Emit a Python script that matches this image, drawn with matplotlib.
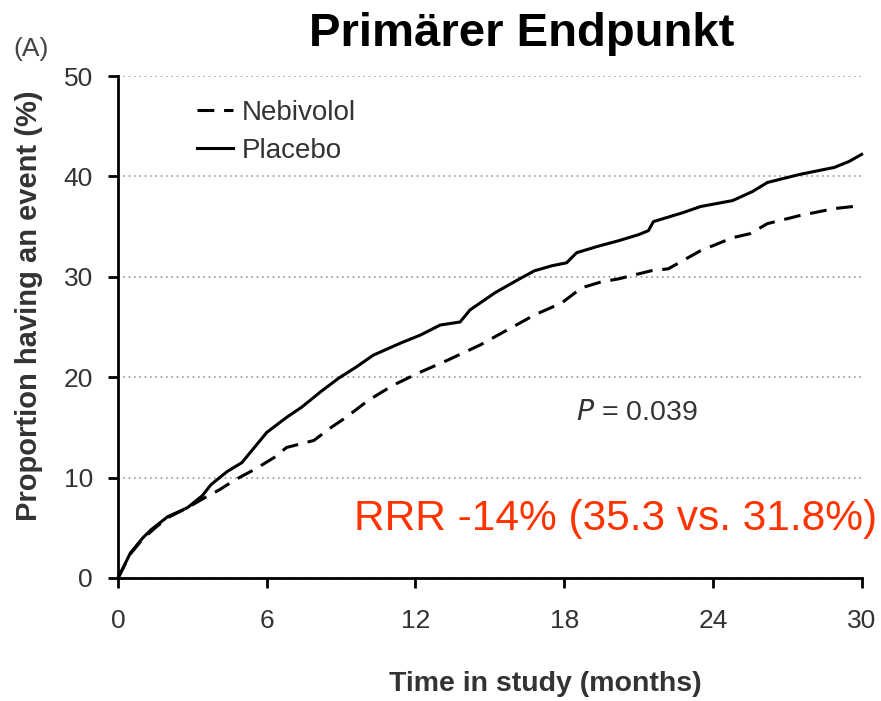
import matplotlib
matplotlib.use("Agg")
import matplotlib.pyplot as plt

# ========================
# DATA
# ========================
placebo_months = [0, 0.5, 1.0, 1.33, 2.0, 2.8, 3.4, 3.75, 4.4, 5.0, 6.0, 6.8, 7.4, 8.2,
                  8.9, 9.6, 10.3, 11.4, 12.2, 13.0, 13.8, 14.2, 15.2, 16.2, 16.8, 17.5,
                  18.1, 18.5, 19.3, 20.2, 21.0, 21.4, 21.6, 22.8, 23.5, 24.8, 25.6, 26.2,
                  27.5, 28.9, 29.5, 30.0]
placebo_pct = [0, 2.5, 4.0, 4.8, 6.1, 7.0, 8.2, 9.3, 10.6, 11.5, 14.5, 16.0, 17.0, 18.6,
               19.9, 21.0, 22.2, 23.4, 24.2, 25.2, 25.5, 26.7, 28.4, 29.8, 30.6, 31.1,
               31.4, 32.4, 33.0, 33.6, 34.2, 34.6, 35.5, 36.4, 37.0, 37.6, 38.5, 39.4,
               40.2, 40.9, 41.5, 42.2]

nebivolol_months = [0, 0.5, 1.0, 1.5, 2.0, 2.8, 3.5, 4.1, 4.7, 5.5, 6.3, 6.8, 7.9, 8.6,
                    9.2, 10.1, 11.1, 12.1, 13.3, 14.6, 15.7, 16.8, 17.9, 18.7, 19.5, 20.2,
                    21.5, 22.2, 23.5, 24.8, 25.5, 26.2, 27.5, 28.9, 30.0]
nebivolol_pct = [0, 2.4, 3.9, 5.0, 6.0, 7.0, 8.0, 8.8, 9.75, 10.8, 12.0, 13.0, 13.7, 15.0,
                 16.0, 17.7, 19.2, 20.4, 21.7, 23.2, 24.7, 26.2, 27.4, 28.9, 29.5, 29.8,
                 30.6, 30.8, 32.6, 33.9, 34.3, 35.3, 36.1, 36.8, 37.1]

x_ticks = [0, 6, 12, 18, 24, 30]
y_ticks = [0, 10, 20, 30, 40, 50]

# ========================
# STYLE
# ========================
plt.rcParams['font.family'] = ['Liberation Sans', 'DejaVu Sans']
TEXT_GREY = "#333333"
RRR_COLOR = "#FF3300"

fig = plt.figure(figsize=(8.81, 7.01), dpi=100)
ax = fig.add_axes([0.134, 0.1755, 0.844, 0.716])

ax.plot(nebivolol_months, nebivolol_pct, color="black", lw=2.2,
        linestyle=(0, (5.5, 3.2)), label="Nebivolol", clip_on=False)
ax.plot(placebo_months, placebo_pct, color="black", lw=2.2,
        label="Placebo", clip_on=False)

ax.set_xlim(0, 30)
ax.set_ylim(0, 50)
ax.set_xticks(x_ticks)
ax.set_yticks(y_ticks)

for side in ["top", "right"]:
    ax.spines[side].set_visible(False)
for side in ["left", "bottom"]:
    ax.spines[side].set_linewidth(2.0)

ax.tick_params(axis='both', direction='out', length=7, width=2.0,
               labelsize=19, labelcolor=TEXT_GREY)
ax.tick_params(axis='x', pad=15)
ax.tick_params(axis='y', pad=11)

ax.grid(axis='y', linestyle=(0, (1, 2.2)), color="#999999", lw=1.2)
ax.set_axisbelow(True)

ax.set_ylabel("Proportion having an event (%)", fontsize=21, weight='bold',
              color=TEXT_GREY)
ax.yaxis.set_label_coords(-0.101, 0.543)
ax.set_xlabel("Time in study (months)", fontsize=20.5, weight='bold',
              color=TEXT_GREY)
ax.xaxis.set_label_coords(0.575, -0.185)

leg = ax.legend(loc='upper left', bbox_to_anchor=(0.091, 0.975), frameon=False,
                fontsize=20, handlelength=1.3, handletextpad=0.3,
                labelspacing=0.45, borderaxespad=0)
for t in leg.get_texts():
    t.set_color(TEXT_GREY)

ax.text(0.616, 0.328, "$P$ = 0.039", transform=ax.transAxes, fontsize=20.5,
        color=TEXT_GREY, va='center', ha='left')

fig.text(0.996, 0.26, "RRR -14% (35.3 vs. 31.8%)", fontsize=30.5,
         color=RRR_COLOR, ha='right', va='center')

fig.text(0.592, 0.952, "Primärer Endpunkt", fontsize=34, weight='bold',
         color="black", ha='center', va='center')
fig.text(0.015, 0.930, "(A)", fontsize=19, color="#444444", ha='left', va='center')

plt.savefig("out.png", dpi=100)
plt.close()
